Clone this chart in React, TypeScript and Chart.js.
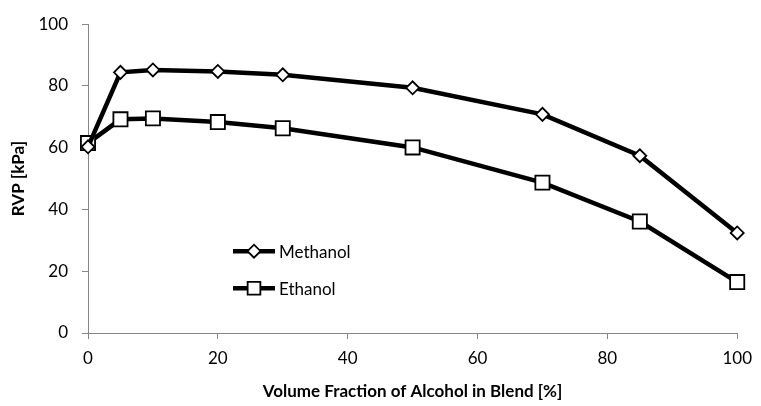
import React, { useEffect, useRef } from "react";
import { Chart, registerables } from "chart.js";
import { drawPoint } from "chart.js/helpers";

Chart.register(...registerables);

const fractions = [0, 5, 10, 20, 30, 50, 70, 85, 100];
const methanolRVP = [60.3, 84.4, 85.2, 84.7, 83.6, 79.4, 70.8, 57.4, 32.4];
const ethanolRVP = [61.5, 69.2, 69.5, 68.3, 66.3, 60.1, 48.7, 36.1, 16.5];
const seriesNames = ["Methanol", "Ethanol"];
const xTitle = "Volume Fraction of Alcohol in Blend [%]";
const yTitle = "RVP [kPa]";

const FONT = "Lato, 'Open Sans', sans-serif";
const AXIS_GRAY = "#868686";

const legendPlugin = {
  id: "insideLegend",
  afterDraw(chart: any) {
    const ctx = chart.ctx;
    const { left, top } = chart.chartArea;
    chart.data.datasets.forEach((ds: any, i: number) => {
      const x0 = left + 145;
      const y = top + 227 + i * 37;
      ctx.save();
      ctx.strokeStyle = ds.borderColor;
      ctx.lineWidth = ds.borderWidth;
      ctx.beginPath();
      ctx.moveTo(x0, y);
      ctx.lineTo(x0 + 42, y);
      ctx.stroke();
      ctx.fillStyle = ds.pointBackgroundColor;
      ctx.strokeStyle = ds.pointBorderColor;
      ctx.lineWidth = ds.pointBorderWidth;
      drawPoint(
        ctx,
        {
          pointStyle: ds.pointStyle,
          radius: ds.pointStyle === "rect" ? 9 : ds.pointRadius,
          rotation: 0,
          borderWidth: ds.pointBorderWidth,
        },
        x0 + 21,
        y
      );
      ctx.fillStyle = "#000";
      ctx.font = `17px ${FONT}`;
      ctx.textAlign = "left";
      ctx.textBaseline = "middle";
      ctx.fillText(ds.label, x0 + 46, y + 1);
      ctx.restore();
    });
  },
};

export default function App() {
  const canvasRef = useRef<HTMLCanvasElement | null>(null);

  useEffect(() => {
    if (!canvasRef.current) return;
    const mk = (vals: number[]) => fractions.map((x, i) => ({ x, y: vals[i] }));
    const chart = new Chart(canvasRef.current, {
      type: "line",
      data: {
        datasets: [
          {
            label: seriesNames[0],
            data: mk(methanolRVP),
            borderColor: "#000",
            borderWidth: 4.5,
            pointStyle: "rectRot",
            pointRadius: 6.5,
            pointBackgroundColor: "#fff",
            pointBorderColor: "#000",
            pointBorderWidth: 1.8,
            tension: 0,
            clip: false,
          },
          {
            label: seriesNames[1],
            data: mk(ethanolRVP),
            borderColor: "#000",
            borderWidth: 4.5,
            pointStyle: "rect",
            pointRadius: 10,
            pointBackgroundColor: "#fff",
            pointBorderColor: "#000",
            pointBorderWidth: 1.8,
            tension: 0,
            clip: false,
          },
        ] as any,
      },
      options: {
        animation: false,
        responsive: true,
        maintainAspectRatio: false,
        layout: {
          autoPadding: false,
          padding: { top: 20, right: 19, left: 0, bottom: 0 },
        },
        plugins: {
          legend: { display: false },
          tooltip: { enabled: false },
        },
        scales: {
          x: {
            type: "linear",
            min: 0,
            max: 100,
            afterFit: (s: any) => {
              s.height = 73;
            },
            ticks: {
              stepSize: 20,
              color: "#000",
              padding: 9,
              font: { family: FONT, size: 17 },
              maxRotation: 0,
            },
            grid: {
              drawOnChartArea: false,
              drawTicks: true,
              tickLength: 6,
              color: AXIS_GRAY,
            },
            border: { color: AXIS_GRAY, width: 1 },
            title: {
              display: true,
              text: xTitle,
              color: "#000",
              font: { family: FONT, size: 17, weight: "bold" },
              padding: { top: 4, bottom: 4 },
            },
          },
          y: {
            type: "linear",
            min: 0,
            max: 100,
            afterFit: (s: any) => {
              s.width = 88;
            },
            ticks: {
              stepSize: 20,
              color: "#000",
              padding: 14,
              font: { family: FONT, size: 17 },
            },
            grid: {
              drawOnChartArea: false,
              drawTicks: true,
              tickLength: 6,
              color: AXIS_GRAY,
            },
            border: { color: AXIS_GRAY, width: 1 },
            title: {
              display: true,
              text: yTitle,
              color: "#000",
              font: { family: FONT, size: 17, weight: "bold" },
              padding: { top: 8, bottom: 4 },
            },
          },
        },
      } as any,
      plugins: [legendPlugin],
    });
    return () => chart.destroy();
  }, []);

  return (
    <div
      style={{
        position: "fixed",
        left: 0,
        top: 0,
        width: 761,
        height: 406,
        background: "#fff",
      }}
    >
      <canvas ref={canvasRef} />
    </div>
  );
}
